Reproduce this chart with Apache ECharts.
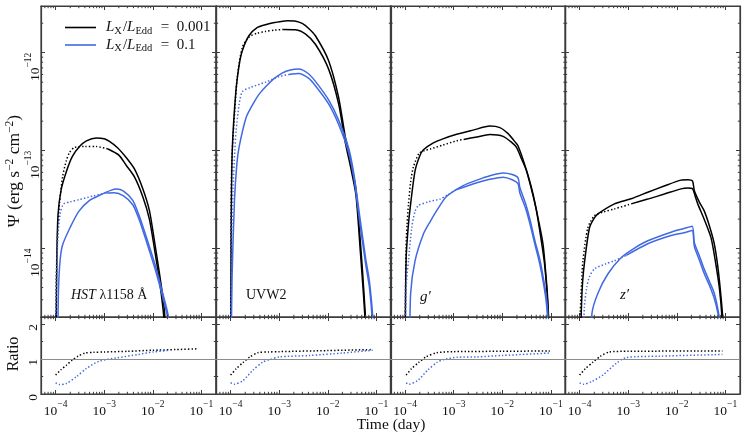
<!DOCTYPE html>
<html>
<head>
<meta charset="utf-8">
<script src="https://cdn.jsdelivr.net/npm/echarts@6/dist/echarts.min.js"></script>
<style>
  html, body { margin: 0; padding: 0; background: #fff; }
  #chart { width: 747px; height: 440px; }
</style>
</head>
<body>
<div id="chart"></div>
<script>
// ---- data: [time (day), Psi (erg s^-2 cm^-2)] ----
// "A" = solid curve, "B" = curve drawn dotted up to its switch time, solid after

// HST lambda1158
const hstBlackA = [[1.02e-4,1e-15],[1.06e-4,8e-15],[1.12e-4,2.2e-14],[1.3e-4,4e-14],[1.66e-4,6.1e-14],[2.2e-4,8.7e-14],[3.1e-4,1.1e-13],[4.3e-4,1.26e-13],[6.9e-4,1.35e-13],[1e-3,1.32e-13],[1.28e-3,1.24e-13],[1.88e-3,1.07e-13],[2.83e-3,8.5e-14],[4.19e-3,6.5e-14],[6.2e-3,4.1e-14],[8.5e-3,2.45e-14],[1.08e-2,1.2e-14],[1.37e-2,5.6e-15],[1.65e-2,2.95e-15],[1.77e-2,2e-15],[1.8e-2,1e-15]];
const hstBlackB = [[1.0e-4,1e-15],[1.04e-4,6e-15],[1.12e-4,1.8e-14],[1.21e-4,3e-14],[1.4e-4,5.5e-14],[1.66e-4,7.9e-14],[1.94e-4,9.6e-14],[2.45e-4,1.08e-13],[4e-4,1.1e-13],[6.9e-4,1.1e-13],[1.2e-3,1.04e-13],[2e-3,9e-14],[2.83e-3,7.1e-14],[4.19e-3,5.4e-14],[6.2e-3,3.4e-14],[8.5e-3,2e-14],[1.08e-2,1e-14],[1.37e-2,4.7e-15],[1.6e-2,2.6e-15],[1.72e-2,1.7e-15],[1.75e-2,1e-15]];
const hstBlueA = [[1.1e-4,1e-15],[1.15e-4,4e-15],[1.25e-4,8e-15],[1.4e-4,1.1e-14],[2e-4,1.65e-14],[3e-4,2.4e-14],[5e-4,3.1e-14],[8e-4,3.5e-14],[1.4e-3,3.95e-14],[1.8e-3,4.05e-14],[2.5e-3,3.85e-14],[3.87e-3,3.1e-14],[5e-3,2.3e-14],[6.2e-3,1.7e-14],[8.5e-3,1.05e-14],[1.17e-2,6.3e-15],[1.6e-2,3.5e-15],[2.1e-2,2e-15],[2.25e-2,1e-15]];
const hstBlueB = [[1.0e-4,1e-15],[1.04e-4,5e-15],[1.12e-4,1.4e-14],[1.25e-4,2.3e-14],[1.45e-4,2.85e-14],[2e-4,3e-14],[3e-4,3.15e-14],[6e-4,3.45e-14],[1.1e-3,3.7e-14],[1.6e-3,3.72e-14],[2.5e-3,3.45e-14],[3.87e-3,2.8e-14],[5e-3,2.1e-14],[6.2e-3,1.55e-14],[8.5e-3,9.5e-15],[1.17e-2,5.7e-15],[1.55e-2,3.4e-15],[2.05e-2,1.9e-15],[2.15e-2,1e-15]];
const hstSwitch = [1.2e-3, 1.1e-3];

// UVW2
const uvwBlackA = [[1.0e-4,1e-15],[1.03e-4,2e-14],[1.08e-4,1e-13],[1.27e-4,3.8e-13],[1.5e-4,7.5e-13],[1.74e-4,1.05e-12],[2.38e-4,1.49e-12],[3.5e-4,1.8e-12],[5.2e-4,1.93e-12],[8e-4,2.03e-12],[1.46e-3,2.12e-12],[2.2e-3,2.1e-12],[2.97e-3,1.99e-12],[4e-3,1.78e-12],[5.56e-3,1.49e-12],[1.04e-2,8.3e-13],[1.67e-2,3.5e-13],[2.3e-2,1.37e-13],[3e-2,7.5e-14],[3.8e-2,4e-14],[4.8e-2,1e-14],[5.5e-2,3.8e-15],[6.1e-2,1.6e-15],[6.2e-2,1e-15]];
const uvwBlackB = [[1.0e-4,1e-15],[1.02e-4,2e-14],[1.06e-4,8e-14],[1.17e-4,1.9e-13],[1.37e-4,5.6e-13],[1.74e-4,1.13e-12],[2.4e-4,1.45e-12],[3.5e-4,1.58e-12],[5.2e-4,1.65e-12],[8e-4,1.7e-12],[1.2e-3,1.73e-12],[2.17e-3,1.72e-12],[3.5e-3,1.55e-12],[5.56e-3,1.22e-12],[1.04e-2,6.8e-13],[1.67e-2,3e-13],[2.3e-2,1.2e-13],[3e-2,6.5e-14],[3.8e-2,3.5e-14],[4.7e-2,9e-15],[5.4e-2,3.5e-15],[6e-2,1.5e-15],[6.1e-2,1e-15]];
const uvwBlueA = [[1.03e-4,1e-15],[1.07e-4,5e-15],[1.2e-4,3.1e-14],[1.35e-4,7.5e-14],[1.5e-4,1.1e-13],[2.1e-4,2.2e-13],[3e-4,3.1e-13],[3.9e-4,3.8e-13],[5.5e-4,4.6e-13],[7.7e-4,5.4e-13],[1.15e-3,6.2e-13],[1.7e-3,6.65e-13],[2.53e-3,6.8e-13],[4e-3,6.1e-13],[5.56e-3,5.1e-13],[1.04e-2,3.3e-13],[1.67e-2,2.05e-13],[2.7e-2,1.05e-13],[3.5e-2,5.5e-14],[4.45e-2,2.3e-14],[6e-2,8e-15],[7.2e-2,4.6e-15],[8.5e-2,1.8e-15],[8.6e-2,1e-15]];
const uvwBlueB = [[1.0e-4,1e-15],[1.04e-4,1e-14],[1.12e-4,4e-14],[1.22e-4,1e-13],[1.3e-4,1.6e-13],[1.5e-4,3e-13],[1.74e-4,4e-13],[2.5e-4,4.4e-13],[5.2e-4,5e-13],[1e-3,5.7e-13],[1.58e-3,6e-13],[2.53e-3,6.15e-13],[4e-3,5.5e-13],[5.56e-3,4.6e-13],[1.04e-2,3e-13],[1.67e-2,1.85e-13],[2.7e-2,9.5e-14],[3.5e-2,5e-14],[4.45e-2,2e-14],[6e-2,7e-15],[7.2e-2,4e-15],[8.3e-2,1.7e-15],[8.4e-2,1e-15]];
const uvwSwitch = [1.2e-3, 1.58e-3];

// g'
const gBlackA = [[1.0e-4,1e-15],[1.05e-4,8e-15],[1.15e-4,1.6e-14],[1.27e-4,2.6e-14],[1.6e-4,6.2e-14],[2e-4,8.8e-14],[2.38e-4,1.02e-13],[3.81e-4,1.2e-13],[6e-4,1.32e-13],[1.15e-3,1.47e-13],[2.5e-3,1.62e-13],[5.56e-3,1.78e-13],[8.9e-3,1.72e-13],[1.3e-2,1.5e-13],[1.9e-2,1.2e-13],[2.1e-2,1.12e-13],[2.7e-2,8e-14],[3.5e-2,5.3e-14],[4.3e-2,3.6e-14],[5.5e-2,2e-14],[6.9e-2,1.1e-14],[8e-2,5e-15],[8.8e-2,2.5e-15],[9.3e-2,1e-15]];
const gBlackB = [[1.0e-4,1e-15],[1.04e-4,1e-14],[1.1e-4,1.8e-14],[1.17e-4,2.8e-14],[1.3e-4,4.8e-14],[1.48e-4,6.8e-14],[1.94e-4,9.4e-14],[2.5e-4,1.0e-13],[3.3e-4,1.04e-13],[6e-4,1.14e-13],[1.15e-3,1.26e-13],[1.6e-3,1.3e-13],[3e-3,1.38e-13],[5.56e-3,1.46e-13],[1.04e-2,1.4e-13],[1.6e-2,1.2e-13],[1.96e-2,1.08e-13],[2.5e-2,8.2e-14],[3.15e-2,6.2e-14],[4e-2,4e-14],[5.04e-2,2.44e-14],[6.2e-2,1.3e-14],[7.4e-2,7e-15],[8.5e-2,3e-15],[9.1e-2,1e-15]];
const gBlueA = [[1.25e-4,1e-15],[1.3e-4,3.5e-15],[1.6e-4,7.5e-15],[2.38e-4,1.41e-14],[3.3e-4,1.9e-14],[4.47e-4,2.44e-14],[7.1e-4,3.4e-14],[1.57e-3,4.4e-14],[3e-3,5e-14],[5.56e-3,5.55e-14],[1.04e-2,5.9e-14],[1.6e-2,5.7e-14],[2.1e-2,5.3e-14],[2.3e-2,4.2e-14],[3e-2,2.9e-14],[3.7e-2,2e-14],[4.7e-2,1.2e-14],[5.9e-2,7.8e-15],[7e-2,5e-15],[8.1e-2,3.2e-15],[9e-2,1.6e-15],[9.3e-2,1e-15]];
const gBlueB = [[1.02e-4,1e-15],[1.05e-4,4e-15],[1.17e-4,7.5e-15],[1.37e-4,1.64e-14],[1.6e-4,2.4e-14],[1.88e-4,2.75e-14],[3e-4,3e-14],[5.2e-4,3.2e-14],[8e-4,3.6e-14],[1.15e-3,4e-14],[3e-3,4.7e-14],[5.56e-3,5.1e-14],[1.04e-2,5.35e-14],[1.6e-2,5.05e-14],[2.1e-2,4.6e-14],[2.3e-2,3.7e-14],[3e-2,2.6e-14],[3.7e-2,1.8e-14],[4.7e-2,1.1e-14],[5.9e-2,7e-15],[7e-2,4.5e-15],[8e-2,2.9e-15],[8.9e-2,1.5e-15],[9.2e-2,1e-15]];
const gSwitch = [1.6e-3, 1.15e-3];

// z'
const zBlackA = [[1.05e-4,1e-15],[1.08e-4,2.2e-15],[1.15e-4,4.5e-15],[1.27e-4,7.5e-15],[1.6e-4,1.64e-14],[2e-4,2.05e-14],[2.38e-4,2.26e-14],[5.2e-4,2.86e-14],[1.2e-3,3.25e-14],[2.53e-3,3.76e-14],[5.5e-3,4.35e-14],[1.22e-2,5e-14],[1.7e-2,5.05e-14],[2.1e-2,4.9e-14],[2.3e-2,3.9e-14],[2.9e-2,3e-14],[3.65e-2,2.44e-14],[4.7e-2,1.7e-14],[5.9e-2,1.12e-14],[7e-2,6.5e-15],[8e-2,3.5e-15],[8.8e-2,2e-15],[9.3e-2,1e-15]];
const zBlackB = [[1.0e-4,1e-15],[1.03e-4,2.2e-15],[1.1e-4,4.5e-15],[1.17e-4,7.5e-15],[1.48e-4,1.64e-14],[2.03e-4,2.17e-14],[3e-4,2.35e-14],[5.2e-4,2.54e-14],[1.15e-3,2.86e-14],[2.53e-3,3.2e-14],[5.56e-3,3.6e-14],[1.22e-2,4.07e-14],[1.7e-2,4.15e-14],[2.1e-2,4.1e-14],[2.4e-2,3.4e-14],[2.7e-2,2.86e-14],[3.65e-2,2e-14],[5.04e-2,1.3e-14],[6.2e-2,7.5e-15],[7.5e-2,4e-15],[8.5e-2,2e-15],[8.9e-2,1e-15]];
const zBlueA = [[1.72e-4,1e-15],[1.8e-4,2.2e-15],[2.38e-4,3.5e-15],[3.81e-4,5.5e-15],[7.2e-4,8.1e-15],[1.3e-3,1e-14],[2.53e-3,1.2e-14],[7.6e-3,1.47e-14],[1.4e-2,1.6e-14],[2.07e-2,1.69e-14],[2.3e-2,1.15e-14],[2.9e-2,8.5e-15],[3.65e-2,6.2e-15],[4.7e-2,4.6e-15],[5.9e-2,3.5e-15],[7e-2,2.4e-15],[8.1e-2,1.5e-15],[8.2e-2,1e-15]];
const zBlueB = [[1.2e-4,1e-15],[1.25e-4,2.5e-15],[1.4e-4,4e-15],[1.6e-4,5.2e-15],[2.03e-4,6.2e-15],[3.5e-4,7e-15],[5.2e-4,7.5e-15],[9.1e-4,8.5e-15],[2.53e-3,1.12e-14],[7.6e-3,1.36e-14],[1.4e-2,1.45e-14],[2.07e-2,1.53e-14],[2.3e-2,1.05e-14],[2.9e-2,7.7e-15],[3.65e-2,5.6e-15],[4.7e-2,4.2e-15],[5.9e-2,3.1e-15],[7e-2,2.2e-15],[7.9e-2,1.5e-15],[8e-2,1e-15]];
const zSwitch = [1.15e-3, 9.1e-4];

// ratio panels: [time (day), ratio]
const hstRatioBlack = [[1e-4,0.54],[1.3e-4,0.7],[1.66e-4,0.82],[2.2e-4,0.97],[2.9e-4,1.08],[4e-4,1.17],[6e-4,1.19],[1e-3,1.2],[3e-3,1.22],[1e-2,1.25],[3e-2,1.27],[8e-2,1.29]];
const hstRatioBlue = [[1e-4,0.32],[1.2e-4,0.27],[1.66e-4,0.3],[2.66e-4,0.49],[4.3e-4,0.73],[8e-4,0.94],[1.8e-3,1.03],[5e-3,1.13],[1e-2,1.2],[2.2e-2,1.25]];
const uvwRatioBlack = [[1e-4,0.54],[1.3e-4,0.72],[1.8e-4,0.9],[2.5e-4,1.06],[3.64e-4,1.18],[6e-4,1.2],[1e-3,1.21],[1e-2,1.24],[8.4e-2,1.27]];
const uvwRatioBlue = [[1e-4,0.32],[1.2e-4,0.28],[1.79e-4,0.38],[2.87e-4,0.68],[4.6e-4,0.91],[6.3e-4,0.98],[1e-3,1.06],[4.2e-3,1.1],[2e-2,1.17],[8.4e-2,1.25]];
const gRatioBlack = [[1.05e-4,0.54],[1.35e-4,0.72],[1.9e-4,0.9],[2.7e-4,1.06],[4.5e-4,1.18],[1e-3,1.21],[1e-2,1.22],[9.5e-2,1.23]];
const gRatioBlue = [[1.05e-4,0.32],[1.2e-4,0.28],[1.8e-4,0.38],[2.9e-4,0.68],[4.5e-4,0.9],[6.1e-4,0.98],[1.2e-3,1.05],[3e-3,1.06],[1e-2,1.1],[9.5e-2,1.17]];
const zRatioBlack = [[1e-4,0.54],[1.3e-4,0.72],[1.88e-4,0.91],[2.7e-4,1.08],[4.1e-4,1.2],[1e-3,1.22],[8.7e-2,1.23]];
const zRatioBlue = [[1e-4,0.32],[1.2e-4,0.28],[1.8e-4,0.36],[3e-4,0.54],[5.6e-4,0.87],[9.1e-4,1.04],[4.4e-3,1.08],[8.7e-2,1.13]];

// axis limits and ticks
const timeRange = [5e-5, 0.2];
const psiRange = [2e-15, 3e-12];
const ratioRange = [0, 2.2];
const ratioMinor = [0.5, 1.5];
const bandLabels = ['HST', 'UVW2', 'g′', 'z′'];
const legendNames = ['L_X/L_Edd = 0.001', 'L_X/L_Edd = 0.1'];

// ---- layout / style ----
const FONT = '"Liberation Serif", "DejaVu Serif", serif';
const INK = '#111';
const FRAME = '#3c3c3c';
const BLACK = '#000000';
const BLUE = '#4169e1';
const panelLeft = [41, 216, 390.5, 565];
const panelW = 175;

const panels = [
  {kA: hstBlackA, kB: hstBlackB, bA: hstBlueA, bB: hstBlueB, sw: hstSwitch, rk: hstRatioBlack, rb: hstRatioBlue},
  {kA: uvwBlackA, kB: uvwBlackB, bA: uvwBlueA, bB: uvwBlueB, sw: uvwSwitch, rk: uvwRatioBlack, rb: uvwRatioBlue},
  {kA: gBlackA, kB: gBlackB, bA: gBlueA, bB: gBlueB, sw: gSwitch, rk: gRatioBlack, rb: gRatioBlue},
  {kA: zBlackA, kB: zBlackB, bA: zBlueA, bB: zBlueB, sw: zSwitch, rk: zRatioBlack, rb: zRatioBlue}
];

// minor tick values (decoration, placed through the axes)
const timeMinor = [], psiMinor = [];
for (let n = -5; n <= -1; n++) for (let k = 2; k <= 9; k++) {
  const v = k * Math.pow(10, n);
  if (v > timeRange[0] * 1.001 && v < timeRange[1] * 0.999) timeMinor.push(v);
}
for (let n = -15; n <= -12; n++) for (let k = 2; k <= 9; k++) {
  const v = k * Math.pow(10, n);
  if (v > psiRange[0] * 1.001 && v < psiRange[1] * 0.999) psiMinor.push(v);
}

const supRich = {
  b: {fontFamily: FONT, fontSize: 13.5, color: INK, lineHeight: 19, verticalAlign: 'bottom'},
  s: {fontFamily: FONT, fontSize: 9.5, color: INK, verticalAlign: 'top'}
};
function powLabel(v) {
  const lg = Math.log10(v);
  const e = Math.round(lg);
  if (Math.abs(lg - e) > 0.01) return '';
  return '{b|10}{s|−' + Math.abs(e) + '}';
}

const grids = [], xAxes = [], yAxes = [], series = [];

for (let g = 0; g < 8; g++) {
  const isRatio = g >= 4;
  const col = g % 4;
  grids.push({
    left: panelLeft[col], width: panelW,
    top: isRatio ? 317 : 6, height: isRatio ? 77 : 311,
    show: true, borderColor: FRAME, borderWidth: 1.2, backgroundColor: 'transparent',
    containLabel: false, outerBoundsMode: 'none'
  });
  ['bottom', 'top'].forEach(pos => {
    xAxes.push({
      type: 'log', logBase: 10, gridIndex: g, position: pos,
      min: timeRange[0], max: timeRange[1],
      axisLine: {show: true, onZero: false, lineStyle: {color: FRAME, width: 1.2}},
      axisTick: {show: true, inside: true, length: 4, lineStyle: {color: FRAME, width: 1}},
      splitLine: {show: false},
      axisLabel: {
        show: isRatio && pos === 'bottom', margin: 5, formatter: powLabel,
        fontFamily: FONT, color: INK, rich: supRich, showMinLabel: false, showMaxLabel: false
      }
    });
  });
  ['left', 'right'].forEach(pos => {
    const showLab = col === 0 && pos === 'left';
    if (isRatio) {
      yAxes.push({
        type: 'value', gridIndex: g, position: pos,
        min: ratioRange[0], max: ratioRange[1], interval: 1,
        axisLine: {show: true, onZero: false, lineStyle: {color: FRAME, width: 1.2}},
        axisTick: {show: true, inside: true, length: 4, lineStyle: {color: FRAME, width: 1}},
        splitLine: {show: false},
        axisLabel: {
          show: showLab, rotate: 90, align: 'right', margin: 1, showMaxLabel: false,
          fontFamily: FONT, fontSize: 13.5, color: INK,
          formatter: v => (v <= 2 ? String(v) : '')
        }
      });
    } else {
      yAxes.push({
        type: 'log', logBase: 10, gridIndex: g, position: pos,
        min: psiRange[0], max: psiRange[1],
        axisLine: {show: true, onZero: false, lineStyle: {color: FRAME, width: 1.2}},
        axisTick: {show: true, inside: true, length: 4, lineStyle: {color: FRAME, width: 1}},
        splitLine: {show: false},
        axisLabel: {
          show: showLab, rotate: 90, align: 'right', margin: -1, formatter: powLabel,
          fontFamily: FONT, color: INK, rich: supRich, showMinLabel: false, showMaxLabel: false
        }
      });
    }
  });
}

function curve(name, data, g, color, dotted) {
  return {
    type: 'line', name: name, data: data,
    xAxisIndex: g * 2, yAxisIndex: g * 2,
    symbol: 'none', showSymbol: false, smooth: 0.25, clip: true, silent: true,
    lineStyle: {color: color, width: 1.5, type: dotted ? [1.4, 2.1] : 'solid', cap: 'butt'},
    itemStyle: {color: color}, z: 3
  };
}

function minorTicks(g, axis, values, ref) {
  return {
    type: 'custom', xAxisIndex: g * 2, yAxisIndex: g * 2, silent: true, clip: false, z: 4,
    data: values.map(v => axis === 'x' ? [v, ref] : [ref, v]),
    renderItem: function (params, api) {
      const cs = params.coordSys;
      const L = 2.2;
      const style = {stroke: FRAME, lineWidth: 1};
      if (axis === 'x') {
        const px = api.coord([api.value(0), ref])[0];
        return {type: 'group', children: [
          {type: 'line', shape: {x1: px, y1: cs.y + cs.height, x2: px, y2: cs.y + cs.height - L}, style: style},
          {type: 'line', shape: {x1: px, y1: cs.y, x2: px, y2: cs.y + L}, style: style}
        ]};
      }
      const py = api.coord([ref, api.value(1)])[1];
      return {type: 'group', children: [
        {type: 'line', shape: {x1: cs.x, y1: py, x2: cs.x + L, y2: py}, style: style},
        {type: 'line', shape: {x1: cs.x + cs.width, y1: py, x2: cs.x + cs.width - L, y2: py}, style: style}
      ]};
    }
  };
}

function splitAt(data, t, before) {
  return data.filter(p => before ? p[0] <= t : p[0] >= t);
}

panels.forEach((p, i) => {
  const gt = i, gr = 4 + i;
  series.push(curve(i === 0 ? legendNames[0] : 'kA' + i, p.kA, gt, BLACK, false));
  series.push(curve('kBd' + i, splitAt(p.kB, p.sw[0], true), gt, BLACK, true));
  series.push(curve('kBs' + i, splitAt(p.kB, p.sw[0], false), gt, BLACK, false));
  series.push(curve(i === 0 ? legendNames[1] : 'bA' + i, p.bA, gt, BLUE, false));
  series.push(curve('bBd' + i, splitAt(p.bB, p.sw[1], true), gt, BLUE, true));
  series.push(curve('bBs' + i, splitAt(p.bB, p.sw[1], false), gt, BLUE, false));

  const rk = curve('rk' + i, p.rk, gr, BLACK, true);
  rk.markLine = {
    silent: true, symbol: 'none', animation: false,
    label: {show: false},
    lineStyle: {color: '#8c8c8c', width: 1.1, type: 'solid'},
    data: [{yAxis: 1}]
  };
  rk.z = 2;
  series.push(rk);
  series.push(curve('rb' + i, p.rb, gr, BLUE, true));

  series.push(minorTicks(gt, 'x', timeMinor, 1e-13));
  series.push(minorTicks(gt, 'y', psiMinor, 1e-3));
  series.push(minorTicks(gr, 'x', timeMinor, 1));
  series.push(minorTicks(gr, 'y', ratioMinor, 1e-3));
});

const textRich = {
  n: {fontFamily: FONT, fontSize: 14, color: INK, lineHeight: 17, verticalAlign: 'middle'},
  i: {fontFamily: FONT, fontSize: 14, color: INK, fontStyle: 'italic', lineHeight: 17, verticalAlign: 'middle'},
  sub: {fontFamily: FONT, fontSize: 9.5, color: INK, verticalAlign: 'bottom', padding: [0, 1, 0, 0]},
  sup: {fontFamily: FONT, fontSize: 10, color: INK, verticalAlign: 'top'},
  ln: {fontFamily: FONT, fontSize: 15, color: INK, lineHeight: 18, verticalAlign: 'middle'},
  li: {fontFamily: FONT, fontSize: 15, color: INK, fontStyle: 'italic', lineHeight: 18, verticalAlign: 'middle'},
  lsub: {fontFamily: FONT, fontSize: 10.5, color: INK, verticalAlign: 'bottom', padding: [0, 1, 0, 0]},
  ny: {fontFamily: FONT, fontSize: 17.5, color: INK, lineHeight: 21, verticalAlign: 'middle'},
  supy: {fontFamily: FONT, fontSize: 11.5, color: INK, verticalAlign: 'top'}
};

const option = {
  backgroundColor: '#ffffff',
  animation: false,
  grid: grids,
  xAxis: xAxes,
  yAxis: yAxes,
  legend: {
    data: legendNames,
    orient: 'vertical', left: 60, top: 15,
    icon: 'rect', itemWidth: 31, itemHeight: 1.6, itemGap: 1,
    selectedMode: false,
    formatter: name => name === legendNames[0]
      ? '{li|L}{lsub|X}{ln|/}{li|L}{lsub|Edd}{ln|  =  0.001}'
      : '{li|L}{lsub|X}{ln|/}{li|L}{lsub|Edd}{ln|  =  0.1}',
    textStyle: {fontFamily: FONT, fontSize: 15, color: INK, rich: textRich, padding: [0, 0, 0, 5]}
  },
  graphic: [
    {type: 'text', x: 14, y: 171, rotation: Math.PI / 2, silent: true,
      style: {text: '{ny|Ψ (erg s}{supy|−2}{ny| cm}{supy|−2}{ny|)}', rich: textRich, align: 'center', verticalAlign: 'middle', fill: INK, fontFamily: FONT, fontSize: 17}},
    {type: 'text', x: 14, y: 354, rotation: Math.PI / 2, silent: true,
      style: {text: 'Ratio', align: 'center', verticalAlign: 'middle', fill: INK, fontFamily: FONT, fontSize: 16}},
    {type: 'text', x: 391, y: 425, silent: true,
      style: {text: 'Time (day)', align: 'center', verticalAlign: 'middle', fill: INK, fontFamily: FONT, fontSize: 15.5}},
    {type: 'text', x: 71, y: 295, silent: true,
      style: {text: '{i|' + bandLabels[0] + '} {n|λ1158 Å}', rich: textRich, align: 'left', verticalAlign: 'middle', fill: INK, fontFamily: FONT, fontSize: 14}},
    {type: 'text', x: 246, y: 295, silent: true,
      style: {text: bandLabels[1], align: 'left', verticalAlign: 'middle', fill: INK, fontFamily: FONT, fontSize: 14}},
    {type: 'text', x: 420, y: 297, silent: true,
      style: {text: bandLabels[2], align: 'left', verticalAlign: 'middle', fill: INK, fontFamily: FONT, fontSize: 15, fontStyle: 'italic'}},
    {type: 'text', x: 620, y: 295, silent: true,
      style: {text: bandLabels[3], align: 'left', verticalAlign: 'middle', fill: INK, fontFamily: FONT, fontSize: 15, fontStyle: 'italic'}}
  ],
  series: series
};

const chart = echarts.init(document.getElementById('chart'));
chart.setOption(option);
</script>
</body>
</html>
